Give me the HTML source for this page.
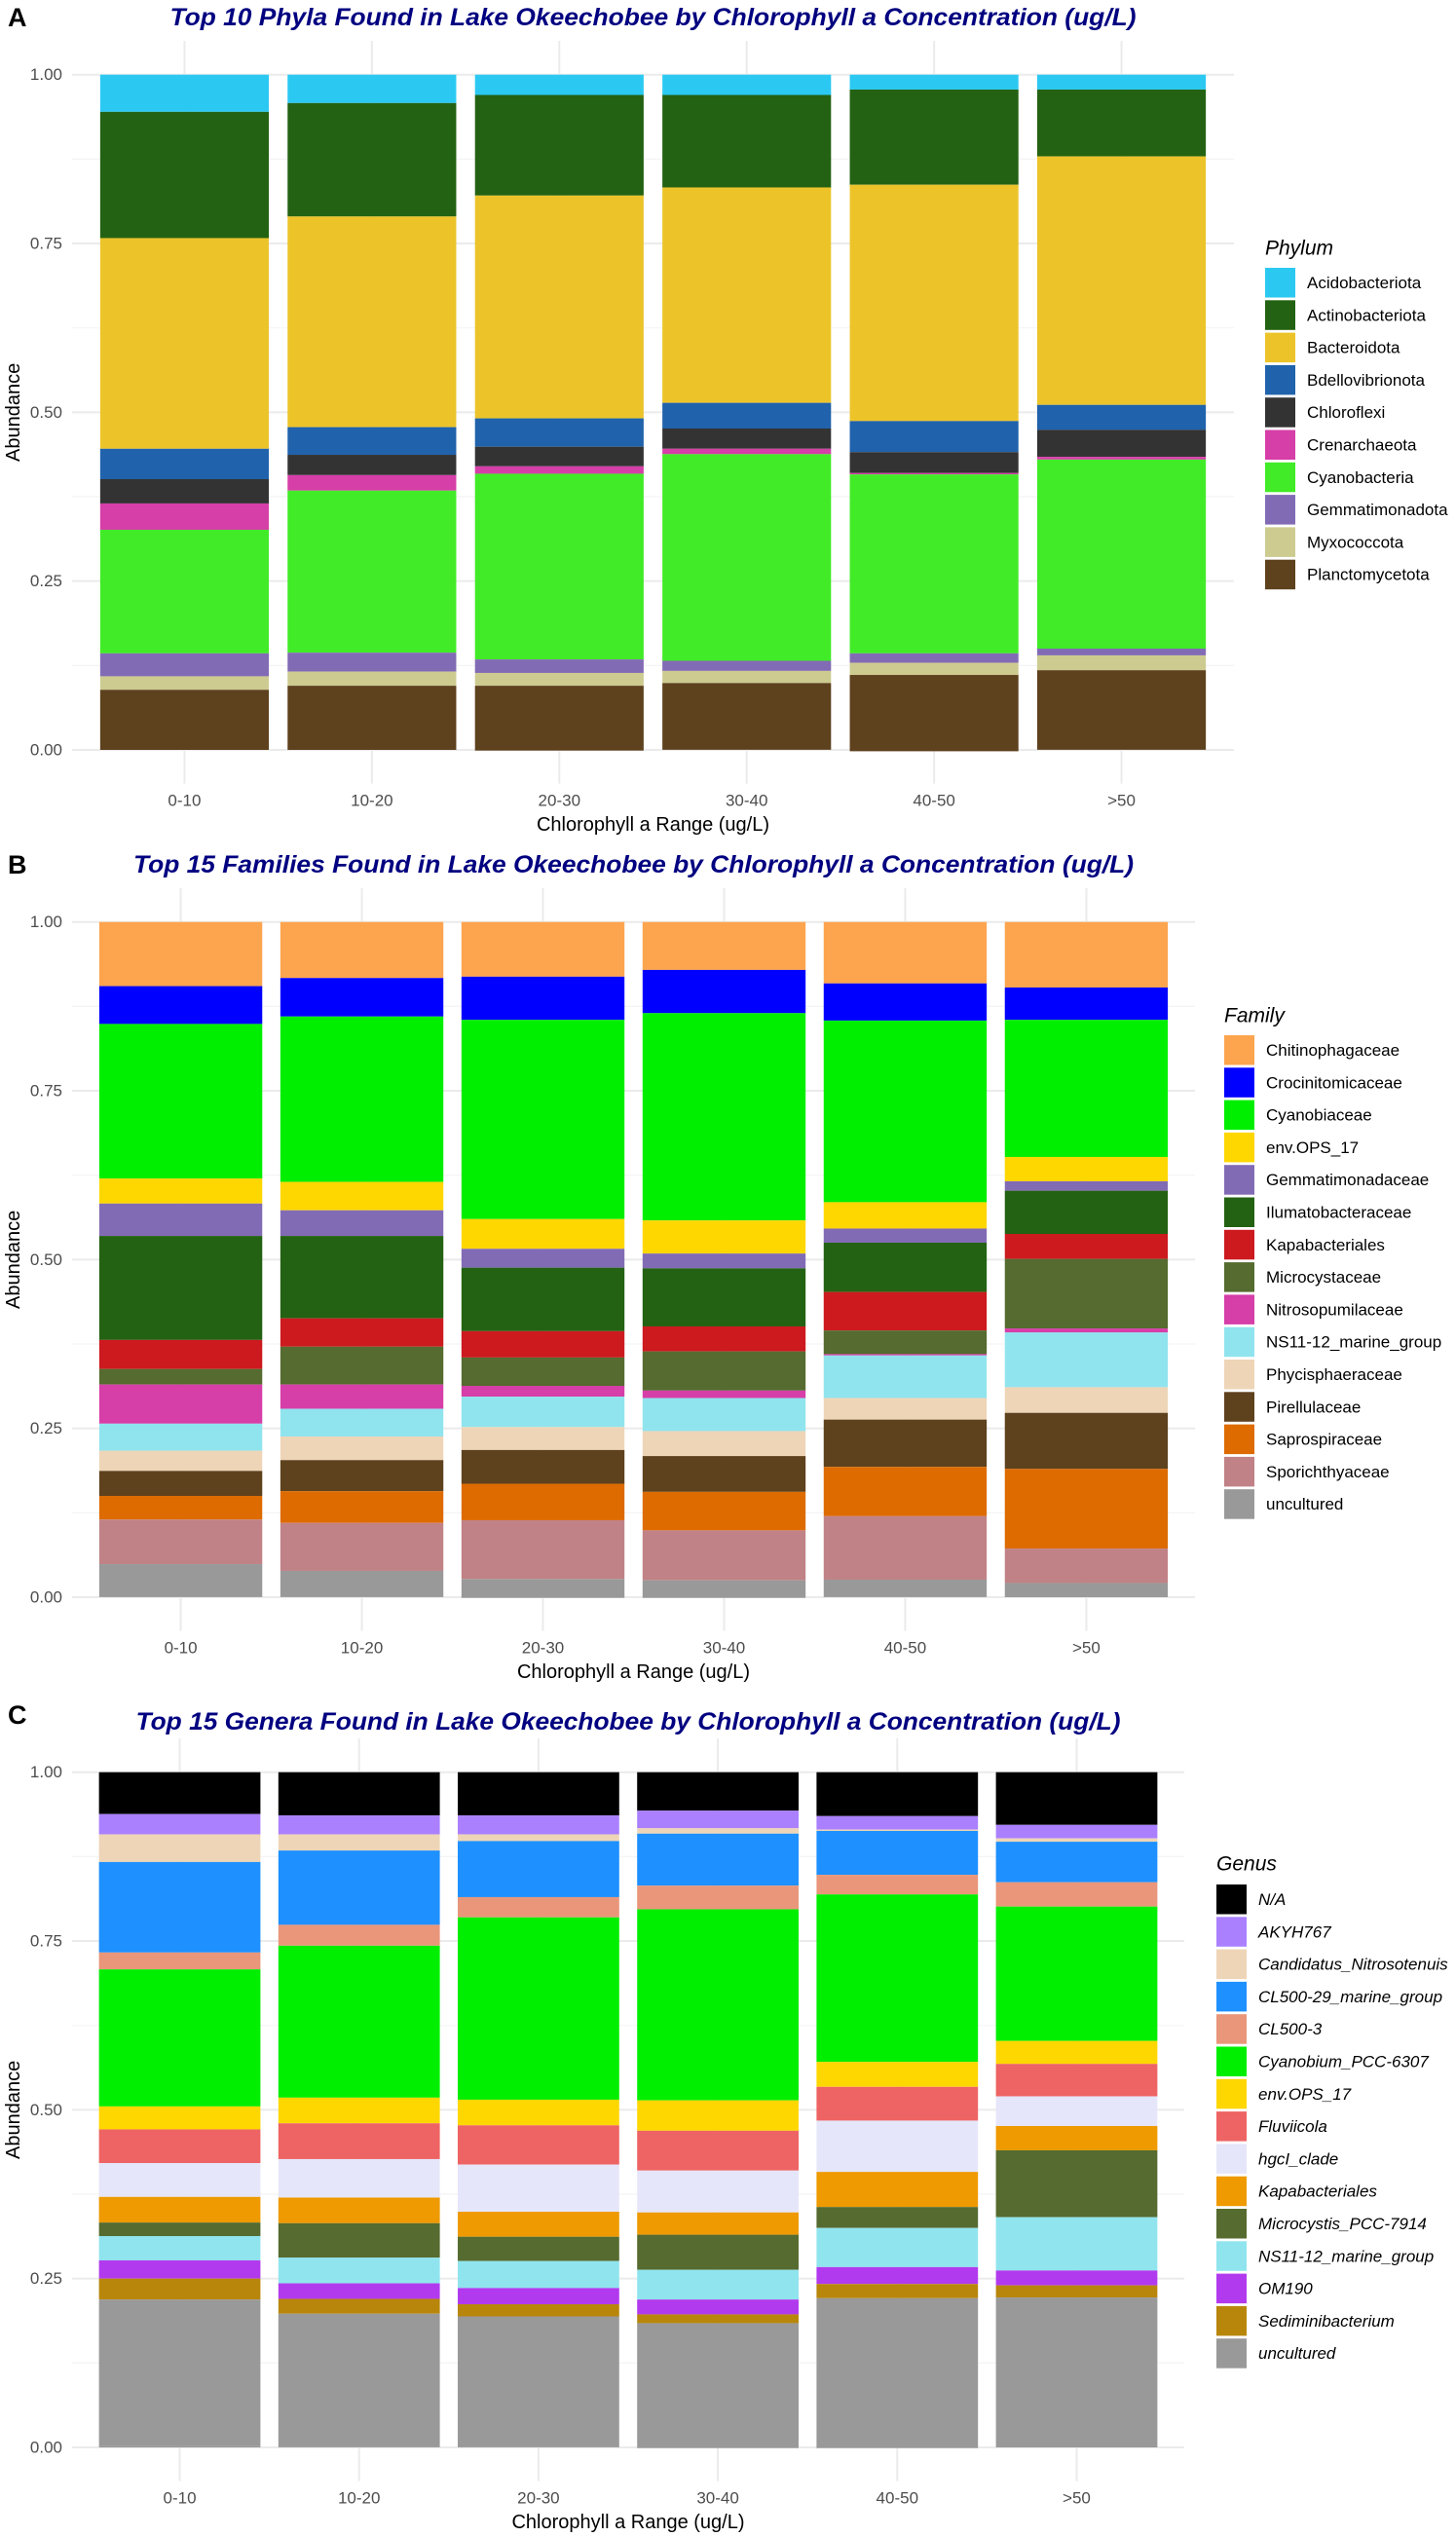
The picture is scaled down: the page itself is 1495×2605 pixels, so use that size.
<!DOCTYPE html>
<html><head><meta charset="utf-8"><title>Lake Okeechobee taxa by chlorophyll a</title>
<style>
html,body{margin:0;padding:0;background:#fff;}
svg{display:block;font-family:"Liberation Sans",Arial,sans-serif;}
</style></head>
<body>
<svg id="chart" width="1495" height="2605" viewBox="0 0 1495 2605" xmlns="http://www.w3.org/2000/svg"></svg>
<script>
const categories = ["0-10","10-20","20-30","30-40","40-50",">50"];
const yTickValues = [0, 0.25, 0.5, 0.75, 1];
const yTickLabels = ["0.00","0.25","0.50","0.75","1.00"];

const phylaNames = ["Acidobacteriota","Actinobacteriota","Bacteroidota","Bdellovibrionota","Chloroflexi","Crenarchaeota","Cyanobacteria","Gemmatimonadota","Myxococcota","Planctomycetota"];
const phylaColors = ["#2bc9f2","#236212","#ecc42a","#2062ab","#333333","#d63ea8","#41eb27","#826bb5","#cdcb90","#5e411d"];
const phyla_0_10  = [.055,.187,.312,.045,.036,.039,.183,.034,.020,.089];
const phyla_10_20 = [.042,.168,.312,.041,.030,.023,.240,.028,.021,.095];
const phyla_20_30 = [.030,.149,.330,.042,.029,.011,.275,.020,.019,.096];
const phyla_30_40 = [.030,.137,.319,.038,.030,.008,.306,.015,.018,.098];
const phyla_40_50 = [.022,.141,.350,.046,.031,.002,.265,.014,.018,.113];
const phyla_gt50  = [.022,.099,.368,.037,.040,.004,.280,.010,.022,.117];

const familyNames = ["Chitinophagaceae","Crocinitomicaceae","Cyanobiaceae","env.OPS_17","Gemmatimonadaceae","Ilumatobacteraceae","Kapabacteriales","Microcystaceae","Nitrosopumilaceae","NS11-12_marine_group","Phycisphaeraceae","Pirellulaceae","Saprospiraceae","Sporichthyaceae","uncultured"];
const familyColors = ["#fda44e","#0000ff","#00ee00","#ffd700","#826bb5","#236212","#cc1a1f","#556b2f","#d63ea8","#90e4ee","#eed5b7","#5e411d","#dd6b00","#c08286","#999999"];
const family_0_10  = [.095,.056,.229,.037,.048,.154,.043,.023,.058,.040,.030,.037,.035,.066,.048];
const family_10_20 = [.083,.057,.245,.042,.038,.122,.042,.056,.036,.041,.035,.046,.047,.071,.038];
const family_20_30 = [.081,.064,.295,.044,.028,.094,.039,.042,.016,.045,.034,.050,.054,.087,.028];
const family_30_40 = [.071,.064,.307,.049,.022,.086,.037,.058,.011,.049,.037,.053,.057,.074,.026];
const family_40_50 = [.091,.055,.269,.039,.021,.073,.057,.035,.002,.063,.032,.070,.073,.094,.025];
const family_gt50  = [.097,.048,.203,.036,.014,.064,.037,.103,.006,.081,.038,.083,.118,.051,.021];

const genusNames = ["N/A","AKYH767","Candidatus_Nitrosotenuis","CL500-29_marine_group","CL500-3","Cyanobium_PCC-6307","env.OPS_17","Fluviicola","hgcI_clade","Kapabacteriales","Microcystis_PCC-7914","NS11-12_marine_group","OM190","Sediminibacterium","uncultured"];
const genusColors = ["#000000","#aa80ff","#eed5b7","#1e90ff","#e9967a","#00ee00","#ffd700","#ee6363","#e6e6fa","#ee9a00","#556b2f","#90e4ee","#b23aee","#b8860b","#999999"];
const genus_0_10  = [.062,.030,.041,.134,.025,.203,.034,.050,.050,.038,.020,.036,.027,.031,.217];
const genus_10_20 = [.064,.028,.024,.110,.031,.225,.038,.053,.057,.038,.051,.038,.023,.022,.197];
const genus_20_30 = [.064,.028,.010,.083,.030,.270,.038,.058,.070,.037,.036,.040,.024,.018,.193];
const genus_30_40 = [.057,.026,.008,.077,.035,.283,.045,.059,.062,.033,.052,.044,.022,.013,.185];
const genus_40_50 = [.065,.020,.002,.065,.029,.248,.037,.050,.076,.052,.031,.058,.025,.021,.222];
const genus_gt50  = [.078,.020,.005,.060,.036,.199,.034,.048,.044,.036,.099,.079,.022,.018,.222];

const NS = "http://www.w3.org/2000/svg";
const svg = document.getElementById('chart');
function mk(tag, attrs, parent, text){
  const e = document.createElementNS(NS, tag);
  for (const k in attrs) e.setAttribute(k, attrs[k]);
  if (text !== undefined) e.textContent = text;
  (parent || svg).appendChild(e);
  return e;
}

const panels = [
  {letter:"A", title:"Top 10 Phyla Found in Lake Okeechobee by Chlorophyll a Concentration (ug/L)", titleW:992,
   off:0, right:1267, legendTitle:"Phylum", legendX:1299, names:phylaNames, colors:phylaColors, italic:false,
   series:[phyla_0_10,phyla_10_20,phyla_20_30,phyla_30_40,phyla_40_50,phyla_gt50], key:"phylum"},
  {letter:"B", title:"Top 15 Families Found in Lake Okeechobee by Chlorophyll a Concentration (ug/L)", titleW:1027,
   off:870, right:1227, legendTitle:"Family", legendX:1257, names:familyNames, colors:familyColors, italic:false,
   series:[family_0_10,family_10_20,family_20_30,family_30_40,family_40_50,family_gt50], key:"family"},
  {letter:"C", title:"Top 15 Genera Found in Lake Okeechobee by Chlorophyll a Concentration (ug/L)", titleW:1011,
   off:1743, right:1216, legendTitle:"Genus", legendX:1249, names:genusNames, colors:genusColors, italic:true,
   series:[genus_0_10,genus_10_20,genus_20_30,genus_30_40,genus_40_50,genus_gt50], key:"genus"}
];

panels.forEach(p => {
  const g = mk('g', {});
  
  
  const y0 = 770 + p.off, H = 693.3, left = 74, right = p.right;
  const yScale = v => y0 - v * H;
  const step = (right - left) / 6.2;
  const xCenter = i => left + (i + 0.6) * step;
  const bw = 0.9 * step;
  const pTop = yScale(1.05), pBot = yScale(-0.05);

  const letter = mk('text', {x:8, y:18 + p.off, 'font-size':27, 'font-weight':'bold', 'dominant-baseline':'central', fill:'#000'}, g, p.letter);
  
  
  const tt = mk('text', {x:(left+right)/2, y:(p.letter==="C"?25:18) + p.off + (p.letter==="B"?0:0), 'font-size':25, 'font-weight':'bold', 'font-style':'italic', fill:'#000080', 'text-anchor':'middle', 'dominant-baseline':'central', textLength:p.titleW, lengthAdjust:'spacingAndGlyphs'}, g, p.title);
  
  

  // minor gridlines
  [0.125,0.375,0.625,0.875].forEach(v => {
    const l = mk('line', {x1:left, x2:right, y1:yScale(v), y2:yScale(v), stroke:'#f4f4f4', 'stroke-width':1.2}, g);
    
    
  });
  yTickValues.forEach((v, i) => {
    const l = mk('line', {x1:left, x2:right, y1:yScale(v), y2:yScale(v), stroke:'#ebebeb', 'stroke-width':2}, g);
    
    
    const t = mk('text', {x:64, y:yScale(v), 'font-size':17, fill:'#4d4d4d', 'text-anchor':'end', 'dominant-baseline':'central'}, g, yTickLabels[i]);
    
    
  });
  categories.forEach((c, i) => {
    const l = mk('line', {x1:xCenter(i), x2:xCenter(i), y1:pTop, y2:pBot, stroke:'#ebebeb', 'stroke-width':2}, g);
    
    
  });
  categories.forEach((c, i) => {
    const bar = mk('g', {}, g);
    
    
    let cum = 0;
    const vals = p.series[i];
    vals.forEach((v, k) => {
      const top = yScale(1 - cum);
      const bot = yScale(1 - cum - v);
      cum += v;
      const r = mk('rect', {x:xCenter(i) - bw/2, y:top, width:bw, height:Math.max(0, bot - top), fill:p.colors[k]}, bar);
      
      
    });
    // remaining bottom (fill to zero using last color if sum < 1)
    if (cum < 1) {
      const r = mk('rect', {x:xCenter(i) - bw/2, y:yScale(1 - cum), width:bw, height:yScale(0) - yScale(1 - cum), fill:p.colors[p.colors.length-1]}, bar);
      
      
    }
    const t = mk('text', {x:xCenter(i), y:822 + p.off, 'font-size':17, fill:'#4d4d4d', 'text-anchor':'middle', 'dominant-baseline':'central'}, g, c);
    
    
  });
  const xt = mk('text', {x:(left+right)/2, y:847 + p.off, 'font-size':20, fill:'#000', 'text-anchor':'middle', 'dominant-baseline':'central'}, g, 'Chlorophyll a Range (ug/L)');
  
  
  const yc = (yScale(0) + yScale(1)) / 2;
  const yt = mk('text', {x:14, y:yc, 'font-size':20, fill:'#000', 'text-anchor':'middle', 'dominant-baseline':'central', transform:`rotate(-90 14 ${yc})`}, g, 'Abundance');
  
  

  // legend
  const lg = mk('g', {}, g);
  
  
  const ltY = (p.letter === "C" ? 171 : 255) + p.off + (p.letter === "B" ? -82 : 0);
  const titleY = p.letter==="A" ? 255 : (p.letter==="B" ? 1043 : 1914);
  const keyTop = p.letter==="A" ? 275 : (p.letter==="B" ? 1063 : 1935);
  const lt = mk('text', {x:p.legendX, y:titleY, 'font-size':21, 'font-style':'italic', fill:'#000', 'dominant-baseline':'central'}, lg, p.legendTitle);
  
  
  p.names.forEach((n, k) => {
    const ky = keyTop + k * 33.3;
    const e = mk('g', {}, lg);
    
    
    mk('rect', {x:p.legendX, y:ky, width:31, height:30.5, fill:p.colors[k]}, e);
    const t = mk('text', {x:p.legendX + 43, y:ky + 15.5, 'font-size':17, fill:'#000', 'dominant-baseline':'central', 'font-style':p.italic?'italic':'normal'}, e, n);
  });
});
</script>
</body></html>
